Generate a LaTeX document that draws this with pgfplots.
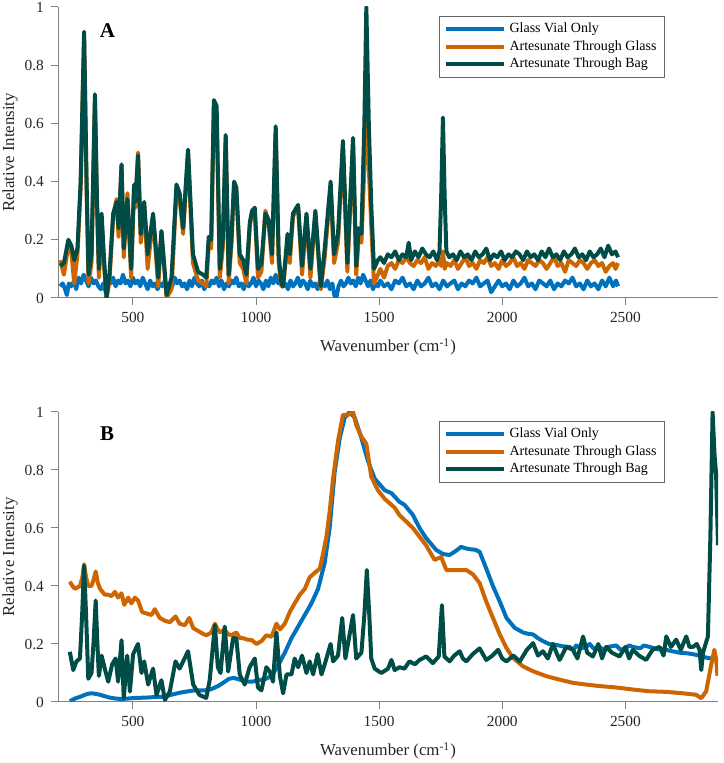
\documentclass[border=0pt]{standalone}
\usepackage{pgfplots}
\pgfplotsset{compat=1.18}
\usepackage{fontspec}
\setmainfont{Liberation Serif}
\definecolor{cblue}{RGB}{0,114,189}
\definecolor{corange}{RGB}{205,102,0}
\definecolor{cteal}{RGB}{0,77,72}
\definecolor{axgray}{RGB}{128,128,128}
\pgfplotsset{myaxis/.style={
  scale only axis, width=330pt, height=145.5pt,
  xmin=196, xmax=2876, ymin=0, ymax=1,
  axis x line*=bottom, axis y line*=left,
  axis line style={axgray, line width=0.5pt},
  tick align=outside, major tick length=3.5pt,
  every tick/.style={axgray, line width=0.5pt},
  xtick={500,1000,1500,2000,2500},
  ytick={0,0.2,0.4,0.6,0.8,1},
  yticklabels={0,0.2,0.4,0.6,0.8,1},
  /pgf/number format/assume math mode=true,
  /pgf/number format/1000 sep={},
  scaled x ticks=false,
  tick label style={font=\fontsize{7.7}{9}\selectfont, text=black!85},
  xlabel={Wavenumber (cm\textsuperscript{-1})},
  ylabel={Relative Intensity},
  label style={font=\fontsize{8.4}{10}\selectfont, text=black!85},
  xlabel style={at={(axis description cs:0.5,0)}, anchor=center, yshift=-24.5pt},
  ylabel style={at={(axis description cs:-0.0727,0.5)}, anchor=center},
  legend style={at={(0.9197,0.969)}, anchor=north east, draw=black!60, line width=0.5pt,
     font=\fontsize{7}{8.4}\selectfont, legend cell align=left, row sep=-1.6pt,
     inner ysep=1.2pt, inner xsep=2pt},
  legend image code/.code={\draw[#1, line width=2pt] (0pt,0pt) -- (29pt,0pt);},
  every axis plot/.append style={line width=2pt, line join=round},
}}
\begin{document}
\begin{tikzpicture}
\useasboundingbox (0,0) rectangle (361.5pt,381.5pt);
% ---------------- Panel A ----------------
\begin{axis}[myaxis, at={(29pt,232.5pt)}, anchor=south west]
\addplot[cblue] coordinates {
(205,0.04)(215,0.05)(225,0.03)(232,0.01)(240,0.05)(250,0.04)(262,0.06)(270,0.03)(280,0.07)(290,0.05)
(300,0.08)(310,0.06)(320,0.04)(330,0.07)(340,0.05)(350,0.06)(360,0.04)(370,0.03)(380,0.05)(390,0.02)
(400,0.06)(410,0.05)(420,0.07)(430,0.04)(440,0.06)(450,0.05)(460,0.08)(470,0.05)(480,0.06)(490,0.04)
(500,0.07)(510,0.05)(520,0.06)(530,0.04)(540,0.07)(550,0.05)(560,0.03)(570,0.06)(580,0.04)(590,0.05)
(600,0.03)(610,0.05)(620,0.04)(630,0.06)(640,0.03)(650,0.05)(660,0.04)(670,0.07)(680,0.05)(690,0.06)
(700,0.04)(710,0.05)(720,0.03)(730,0.06)(740,0.04)(750,0.07)(760,0.05)(770,0.04)(780,0.06)(790,0.03)
(800,0.05)(810,0.04)(820,0.06)(830,0.05)(840,0.07)(850,0.04)(860,0.06)(870,0.03)(880,0.05)(890,0.04)
(900,0.06)(910,0.05)(920,0.07)(930,0.04)(940,0.05)(950,0.03)(960,0.06)(970,0.04)(980,0.05)(990,0.07)
(1000,0.04)(1010,0.06)(1020,0.05)(1030,0.03)(1040,0.06)(1050,0.04)(1060,0.07)(1070,0.05)(1080,0.08)(1090,0.05)
(1100,0.06)(1110,0.04)(1120,0.05)(1130,0.03)(1140,0.06)(1150,0.04)(1160,0.05)(1170,0.07)(1180,0.04)(1190,0.06)
(1200,0.05)(1210,0.03)(1220,0.06)(1230,0.04)(1240,0.05)(1250,0.03)(1260,0.06)(1270,0.05)(1280,0.04)(1290,0.06)
(1300,0.03)(1310,0.05)(1318,0.01)(1326,0.00)(1335,0.04)(1345,0.06)(1355,0.04)(1365,0.05)(1375,0.07)(1385,0.05)
(1395,0.06)(1405,0.04)(1415,0.07)(1425,0.05)(1435,0.08)(1445,0.06)(1455,0.04)(1465,0.06)(1475,0.03)(1485,0.05)
(1495,0.04)(1505,0.06)(1520,0.04)(1535,0.05)(1550,0.03)(1565,0.06)(1580,0.05)(1595,0.07)(1610,0.04)(1625,0.05)
(1640,0.03)(1655,0.06)(1670,0.04)(1685,0.05)(1700,0.07)(1715,0.04)(1730,0.05)(1745,0.03)(1760,0.06)(1775,0.04)
(1790,0.05)(1805,0.06)(1820,0.03)(1835,0.05)(1850,0.04)(1865,0.06)(1880,0.05)(1895,0.07)(1910,0.04)(1925,0.05)
(1940,0.06)(1955,0.02)(1970,0.04)(1985,0.06)(2000,0.04)(2015,0.05)(2030,0.03)(2045,0.06)(2060,0.04)(2075,0.05)
(2090,0.07)(2105,0.04)(2120,0.05)(2135,0.03)(2150,0.06)(2165,0.05)(2180,0.04)(2195,0.06)(2210,0.03)(2225,0.05)
(2240,0.04)(2255,0.06)(2270,0.05)(2285,0.07)(2300,0.04)(2315,0.05)(2330,0.03)(2345,0.06)(2360,0.04)(2375,0.05)
(2390,0.03)(2405,0.06)(2420,0.04)(2435,0.07)(2450,0.04)(2462,0.06)(2470,0.04)
};
\addlegendentry{Glass Vial Only}
\addplot[corange] coordinates {
(205,0.13)(220,0.08)(238,0.18)(250,0.16)(262,0.05)(275,0.15)(288,0.38)(302,0.90)(312,0.38)(320,0.05)
(332,0.12)(346,0.68)(354,0.33)(362,0.07)(373,0.27)(382,0.12)(393,0.00)(405,0.06)(420,0.28)(434,0.34)
(442,0.21)(454,0.46)(463,0.14)(478,0.36)(493,0.07)(505,0.38)(510,0.31)(521,0.50)(532,0.19)(546,0.32)
(560,0.10)(582,0.28)(603,0.04)(616,0.23)(637,0.00)(657,0.03)(677,0.37)(690,0.34)(704,0.22)(724,0.50)
(744,0.12)(765,0.06)(785,0.05)(798,0.04)(808,0.18)(818,0.17)(829,0.66)(840,0.64)(853,0.07)(865,0.17)
(877,0.55)(889,0.05)(900,0.18)(911,0.39)(920,0.37)(934,0.12)(948,0.10)(961,0.05)(975,0.25)(984,0.29)
(995,0.30)(1008,0.07)(1022,0.09)(1038,0.30)(1051,0.26)(1065,0.12)(1080,0.57)(1092,0.12)(1103,0.04)(1110,0.04)
(1128,0.19)(1137,0.12)(1150,0.28)(1171,0.31)(1187,0.08)(1205,0.28)(1221,0.07)(1241,0.29)(1263,0.03)(1279,0.14)
(1303,0.38)(1317,0.12)(1333,0.19)(1353,0.52)(1371,0.09)(1394,0.53)(1407,0.08)(1417,0.21)(1428,0.19)(1440,0.45)
(1448,0.70)(1458,0.45)(1468,0.25)(1479,0.05)(1495,0.08)(1505,0.10)(1520,0.07)(1535,0.11)(1550,0.12)(1565,0.10)
(1580,0.13)(1595,0.12)(1610,0.14)(1625,0.12)(1640,0.11)(1655,0.13)(1670,0.12)(1685,0.14)(1700,0.10)(1715,0.12)
(1730,0.11)(1745,0.13)(1752,0.11)(1759,0.16)(1766,0.10)(1775,0.12)(1790,0.11)(1805,0.13)(1820,0.10)(1835,0.12)
(1850,0.14)(1865,0.11)(1880,0.12)(1895,0.10)(1910,0.13)(1925,0.12)(1940,0.14)(1955,0.11)(1970,0.12)(1985,0.10)
(2000,0.13)(2015,0.11)(2030,0.12)(2045,0.14)(2060,0.11)(2075,0.12)(2090,0.10)(2105,0.13)(2120,0.12)(2135,0.11)
(2150,0.13)(2165,0.12)(2180,0.10)(2195,0.12)(2210,0.14)(2225,0.11)(2240,0.12)(2255,0.09)(2270,0.13)(2285,0.12)
(2300,0.11)(2315,0.13)(2330,0.12)(2345,0.10)(2360,0.12)(2375,0.13)(2390,0.11)(2405,0.12)(2420,0.09)(2435,0.11)
(2450,0.12)(2460,0.10)(2470,0.12)
};
\addlegendentry{Artesunate Through Glass}
\addplot[cteal] coordinates {
(205,0.11)(220,0.12)(238,0.20)(250,0.18)(262,0.13)(275,0.17)(288,0.40)(302,0.915)(312,0.40)(320,0.08)
(332,0.15)(346,0.70)(354,0.35)(362,0.10)(373,0.29)(382,0.15)(393,0.00)(405,0.08)(420,0.29)(434,0.33)
(442,0.24)(454,0.457)(463,0.17)(478,0.34)(493,0.10)(505,0.39)(510,0.33)(521,0.49)(532,0.22)(546,0.33)
(560,0.15)(582,0.29)(603,0.07)(616,0.23)(637,0.01)(657,0.07)(677,0.39)(690,0.36)(704,0.24)(724,0.51)
(744,0.15)(765,0.09)(785,0.08)(798,0.07)(808,0.21)(818,0.20)(829,0.68)(840,0.66)(853,0.10)(865,0.20)
(877,0.56)(889,0.08)(900,0.20)(911,0.40)(920,0.38)(934,0.15)(948,0.13)(961,0.08)(975,0.26)(984,0.30)
(995,0.31)(1008,0.10)(1022,0.12)(1038,0.29)(1051,0.27)(1065,0.15)(1080,0.59)(1092,0.15)(1103,0.05)(1110,0.04)
(1128,0.22)(1137,0.15)(1150,0.29)(1171,0.32)(1187,0.11)(1205,0.29)(1221,0.10)(1241,0.30)(1263,0.04)(1279,0.17)
(1303,0.40)(1317,0.15)(1333,0.22)(1353,0.54)(1371,0.12)(1394,0.55)(1407,0.11)(1417,0.24)(1428,0.22)(1440,0.60)
(1448,1.00)(1458,0.60)(1468,0.32)(1479,0.10)(1495,0.13)(1505,0.14)(1520,0.12)(1535,0.15)(1550,0.14)(1565,0.16)
(1580,0.13)(1595,0.15)(1610,0.14)(1620,0.19)(1630,0.13)(1645,0.16)(1660,0.14)(1675,0.17)(1690,0.15)(1705,0.14)
(1720,0.16)(1735,0.13)(1745,0.16)(1752,0.35)(1759,0.62)(1766,0.35)(1773,0.16)(1785,0.14)(1800,0.15)(1815,0.13)
(1830,0.16)(1845,0.14)(1860,0.15)(1875,0.13)(1890,0.16)(1905,0.14)(1920,0.15)(1935,0.17)(1950,0.13)(1965,0.15)
(1980,0.14)(1995,0.16)(2010,0.13)(2025,0.15)(2040,0.14)(2055,0.16)(2070,0.15)(2085,0.13)(2100,0.16)(2115,0.14)
(2130,0.15)(2145,0.13)(2160,0.16)(2175,0.14)(2190,0.17)(2205,0.14)(2220,0.15)(2235,0.13)(2250,0.16)(2265,0.14)
(2280,0.15)(2295,0.17)(2310,0.14)(2325,0.15)(2340,0.13)(2355,0.16)(2370,0.14)(2385,0.15)(2400,0.17)(2415,0.14)
(2430,0.18)(2445,0.15)(2460,0.16)(2470,0.14)
};
\addlegendentry{Artesunate Through Bag}
\node[font=\bfseries\fontsize{10.5}{12}\selectfont] at (axis cs:397,0.919) {A};
\end{axis}
% ---------------- Panel B ----------------
\begin{axis}[myaxis, at={(29pt,30.5pt)}, anchor=south west, height=145pt]
\addplot[cblue] coordinates {
(244,0.003)(265,0.012)(292,0.02)(315,0.028)(332,0.03)(350,0.028)(366,0.025)(386,0.02)(406,0.015)(430,0.012)
(454,0.01)(480,0.012)(508,0.014)(550,0.015)(589,0.017)(620,0.018)(643,0.022)(670,0.028)(697,0.033)(725,0.037)
(751,0.04)(770,0.04)(792,0.04)(820,0.045)(846,0.055)(870,0.068)(890,0.08)(910,0.083)(935,0.077)(960,0.07)
(985,0.07)(1010,0.075)(1040,0.08)(1063,0.09)(1090,0.127)(1117,0.17)(1144,0.22)(1171,0.26)(1198,0.30)(1225,0.34)
(1252,0.39)(1279,0.48)(1299,0.60)(1319,0.79)(1340,0.91)(1360,0.98)(1380,1.0)(1401,0.98)(1428,0.91)(1455,0.83)
(1482,0.77)(1523,0.73)(1550,0.72)(1583,0.69)(1603,0.68)(1637,0.645)(1664,0.60)(1691,0.565)(1732,0.524)(1760,0.51)
(1786,0.507)(1810,0.52)(1833,0.535)(1850,0.53)(1867,0.527)(1890,0.525)(1908,0.518)(1935,0.46)(1962,0.40)(1990,0.346)
(2017,0.29)(2050,0.256)(2084,0.24)(2105,0.235)(2125,0.233)(2145,0.22)(2165,0.21)(2190,0.20)(2219,0.197)(2245,0.192)
(2273,0.19)(2290,0.18)(2300,0.195)(2320,0.185)(2341,0.19)(2355,0.2)(2370,0.185)(2395,0.19)(2410,0.18)(2430,0.19)
(2463,0.195)(2480,0.18)(2500,0.185)(2515,0.195)(2530,0.19)(2560,0.185)(2575,0.195)(2598,0.19)(2630,0.182)(2666,0.18)
(2690,0.175)(2720,0.17)(2750,0.168)(2774,0.165)(2800,0.16)(2828,0.153)(2850,0.15)(2868,0.146)
};
\addlegendentry{Glass Vial Only}
\addplot[corange] coordinates {
(244,0.415)(255,0.40)(265,0.39)(275,0.395)(285,0.40)(295,0.43)(302,0.475)(310,0.43)(319,0.40)(332,0.40)
(340,0.42)(349,0.45)(358,0.41)(367,0.39)(386,0.37)(400,0.37)(413,0.365)(427,0.38)(440,0.36)(454,0.375)
(465,0.335)(481,0.36)(494,0.34)(508,0.36)(521,0.35)(538,0.31)(556,0.305)(576,0.30)(589,0.32)(609,0.29)
(630,0.28)(650,0.275)(673,0.295)(690,0.27)(711,0.265)(729,0.29)(745,0.255)(765,0.245)(785,0.235)(799,0.23)
(819,0.24)(833,0.27)(845,0.25)(853,0.24)(873,0.25)(885,0.235)(900,0.23)(920,0.24)(935,0.22)(947,0.22)
(965,0.215)(982,0.214)(1002,0.20)(1022,0.21)(1042,0.23)(1063,0.225)(1083,0.27)(1097,0.25)(1117,0.27)(1137,0.31)
(1157,0.34)(1178,0.37)(1198,0.39)(1218,0.43)(1238,0.445)(1259,0.46)(1272,0.51)(1286,0.57)(1299,0.656)(1313,0.77)
(1333,0.90)(1353,0.99)(1374,0.99)(1394,1.0)(1407,0.955)(1428,0.915)(1448,0.89)(1468,0.777)(1495,0.73)(1523,0.70)
(1563,0.67)(1583,0.644)(1603,0.628)(1637,0.60)(1664,0.57)(1691,0.54)(1725,0.49)(1752,0.50)(1773,0.455)(1813,0.455)
(1854,0.455)(1881,0.44)(1908,0.41)(1935,0.346)(1962,0.29)(1990,0.233)(2017,0.186)(2044,0.152)(2084,0.123)(2125,0.106)
(2179,0.089)(2233,0.077)(2287,0.066)(2341,0.06)(2395,0.055)(2463,0.05)(2530,0.043)(2598,0.037)(2666,0.035)(2733,0.03)
(2787,0.025)(2808,0.013)(2828,0.037)(2848,0.127)(2861,0.18)(2868,0.15)(2874,0.09)
};
\addlegendentry{Artesunate Through Glass}
\addplot[cteal] coordinates {
(244,0.173)(258,0.11)(271,0.14)(285,0.15)(294,0.30)(302,0.47)(310,0.30)(319,0.08)(332,0.10)(340,0.20)
(349,0.35)(356,0.20)(362,0.09)(373,0.16)(386,0.115)(400,0.07)(416,0.13)(430,0.15)(440,0.07)(454,0.213)
(463,0.013)(477,0.16)(488,0.036)(501,0.165)(521,0.20)(535,0.10)(546,0.14)(562,0.06)(582,0.115)(596,0.024)
(616,0.075)(630,0.007)(650,0.036)(673,0.14)(690,0.115)(724,0.175)(745,0.06)(771,0.024)(798,0.014)(812,0.075)
(833,0.265)(845,0.12)(856,0.10)(873,0.26)(887,0.105)(907,0.22)(920,0.22)(934,0.095)(954,0.06)(974,0.12)
(995,0.15)(1008,0.05)(1022,0.04)(1042,0.12)(1056,0.105)(1069,0.07)(1083,0.24)(1097,0.09)(1110,0.03)(1124,0.095)
(1144,0.095)(1157,0.15)(1171,0.12)(1187,0.16)(1205,0.10)(1218,0.14)(1232,0.095)(1250,0.165)(1266,0.095)(1279,0.13)
(1303,0.20)(1313,0.14)(1333,0.16)(1350,0.29)(1363,0.15)(1394,0.30)(1407,0.15)(1428,0.17)(1440,0.30)(1450,0.455)
(1460,0.30)(1468,0.15)(1482,0.115)(1509,0.10)(1536,0.115)(1550,0.145)(1563,0.11)(1583,0.12)(1603,0.115)(1623,0.14)
(1645,0.13)(1664,0.145)(1691,0.157)(1718,0.134)(1742,0.157)(1755,0.334)(1765,0.157)(1786,0.14)(1805,0.16)(1827,0.175)
(1840,0.15)(1854,0.14)(1880,0.165)(1908,0.185)(1935,0.145)(1960,0.16)(1983,0.18)(2000,0.15)(2017,0.14)(2045,0.16)
(2071,0.14)(2100,0.18)(2125,0.203)(2145,0.16)(2165,0.175)(2185,0.15)(2206,0.20)(2220,0.17)(2233,0.145)(2260,0.19)
(2287,0.18)(2305,0.15)(2328,0.226)(2345,0.17)(2368,0.157)(2390,0.20)(2405,0.15)(2422,0.19)(2445,0.17)(2476,0.157)
(2500,0.19)(2515,0.15)(2530,0.18)(2555,0.16)(2584,0.145)(2610,0.18)(2639,0.19)(2655,0.16)(2666,0.226)(2685,0.19)
(2706,0.215)(2725,0.18)(2747,0.226)(2760,0.19)(2774,0.19)(2790,0.20)(2801,0.18)(2808,0.11)(2815,0.17)(2822,0.19)
(2835,0.226)(2845,0.57)(2854,1.0)(2862,0.85)(2868,0.79)(2876,0.54)
};
\addlegendentry{Artesunate Through Bag}
\node[font=\bfseries\fontsize{10.5}{12}\selectfont] at (axis cs:395,0.926) {B};
\end{axis}
\end{tikzpicture}
\end{document}
